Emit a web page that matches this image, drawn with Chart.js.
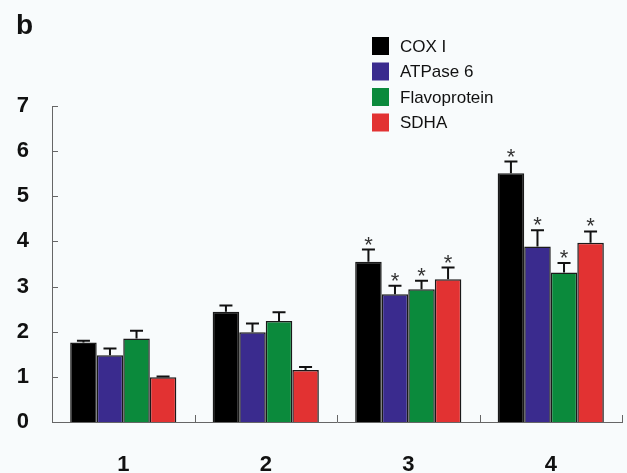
<!DOCTYPE html>
<html lang="en">
<head>
    <meta charset="UTF-8">
    <title>Relative protein levels</title>
    <style>
        body {
            margin: 0;
            background-color: #f8fbfc;
            font-family: Arial, "Liberation Sans", sans-serif;
        }
        #wrap {
            position: relative;
            width: 627px;
            height: 473px;
        }
    </style>
    <script src="https://cdn.jsdelivr.net/npm/chart.js"></script>
</head>
<body>
    <div id="wrap">
        <canvas id="barChart" width="627" height="473"></canvas>
    </div>

    <script>
        // values
        const categories = ['1', '2', '3', '4'];
        const seriesNames = ['COX I', 'ATPase 6', 'Flavoprotein', 'SDHA'];
        const seriesColors = ['#000000', '#3a2b8e', '#0b8a3c', '#e23232'];

        const coxI = [1.76, 2.44, 3.55, 5.51];
        const coxIErr = [0.04, 0.14, 0.27, 0.26];
        const atpase6 = [1.48, 1.99, 2.83, 3.89];
        const atpase6Err = [0.15, 0.19, 0.19, 0.36];
        const flavoprotein = [1.85, 2.24, 2.94, 3.31];
        const flavoproteinErr = [0.17, 0.19, 0.19, 0.21];
        const sdha = [0.99, 1.15, 3.16, 3.97];
        const sdhaErr = [0.02, 0.07, 0.26, 0.25];
        const significant = [false, false, true, true];

        const yTicks = [0, 1, 2, 3, 4, 5, 6, 7];

        const values = [coxI, atpase6, flavoprotein, sdha];
        const errors = [coxIErr, atpase6Err, flavoproteinErr, sdhaErr];

        // error bars, asterisks, inward ticks, panel letter and legend
        const extras = {
            id: 'extras',
            afterDatasetsDraw(chart) {
                const ctx = chart.ctx;
                const y = chart.scales.y;
                ctx.save();
                chart.data.datasets.forEach((ds, di) => {
                    const meta = chart.getDatasetMeta(di);
                    meta.data.forEach((bar, i) => {
                        const top = y.getPixelForValue(ds.data[i] + errors[di][i]);
                        ctx.strokeStyle = '#111';
                        ctx.lineWidth = 2;
                        ctx.beginPath();
                        ctx.moveTo(bar.x, bar.y);
                        ctx.lineTo(bar.x, top);
                        ctx.moveTo(bar.x - 6.5, top);
                        ctx.lineTo(bar.x + 6.5, top);
                        ctx.stroke();
                        if (significant[i]) {
                            ctx.fillStyle = '#333';
                            ctx.font = '22px Arial';
                            ctx.textAlign = 'center';
                            ctx.textBaseline = 'alphabetic';
                            ctx.fillText('*', bar.x, top + 2);
                        }
                    });
                });
                ctx.restore();
            },
            afterDraw(chart) {
                const ctx = chart.ctx;
                const y = chart.scales.y;
                const area = chart.chartArea;
                ctx.save();
                ctx.strokeStyle = '#666';
                ctx.lineWidth = 1;
                ctx.beginPath();
                yTicks.forEach(v => {
                    const py = Math.round(y.getPixelForValue(v)) + 0.5;
                    ctx.moveTo(area.left, py);
                    ctx.lineTo(area.left + 6, py);
                });
                const step = (area.right - area.left) / categories.length;
                for (let i = 0; i <= categories.length; i++) {
                    const px = Math.round(area.left + i * step) + 0.5;
                    ctx.moveTo(px, area.bottom);
                    ctx.lineTo(px, area.bottom - 7);
                }
                ctx.stroke();

                ctx.fillStyle = '#111';
                ctx.font = 'bold 28px Arial';
                ctx.textAlign = 'left';
                ctx.textBaseline = 'alphabetic';
                ctx.fillText('b', 16, 34);

                ctx.font = '17px Arial';
                ctx.textBaseline = 'middle';
                chart.data.datasets.forEach((ds, di) => {
                    const cy = 46 + di * 25.5;
                    ctx.fillStyle = ds.backgroundColor;
                    ctx.fillRect(372, cy - 9, 17, 18);
                    ctx.fillStyle = '#111';
                    ctx.fillText(ds.label, 400, cy + 1);
                });
                ctx.restore();
            }
        };

        new Chart(document.getElementById('barChart').getContext('2d'), {
            type: 'bar',
            data: {
                labels: categories,
                datasets: seriesNames.map((name, i) => ({
                    label: name,
                    data: values[i],
                    backgroundColor: seriesColors[i],
                    borderColor: '#1a1a1a',
                    borderWidth: 1.5,
                    borderSkipped: 'start',
                    barPercentage: 1,
                    categoryPercentage: 0.745
                }))
            },
            options: {
                responsive: false,
                animation: false,
                layout: {
                    padding: { top: 106, right: 5, left: 0, bottom: 0 }
                },
                plugins: {
                    legend: { display: false },
                    tooltip: { enabled: false }
                },
                scales: {
                    x: {
                        grid: { display: false },
                        border: { display: true, color: '#666', width: 1 },
                        ticks: {
                            color: '#111',
                            font: { family: 'Arial', size: 22, weight: 'bold' },
                            padding: 22
                        },
                        afterFit(scale) { scale.height = 51; }
                    },
                    y: {
                        min: 0,
                        max: 7,
                        grid: { display: false },
                        border: { display: true, color: '#666', width: 1 },
                        ticks: {
                            stepSize: 1,
                            color: '#111',
                            font: { family: 'Arial', size: 22, weight: 'bold' },
                            padding: 15
                        },
                        afterFit(scale) { scale.width = 52; }
                    }
                }
            },
            plugins: [extras]
        });
    </script>
</body>
</html>
